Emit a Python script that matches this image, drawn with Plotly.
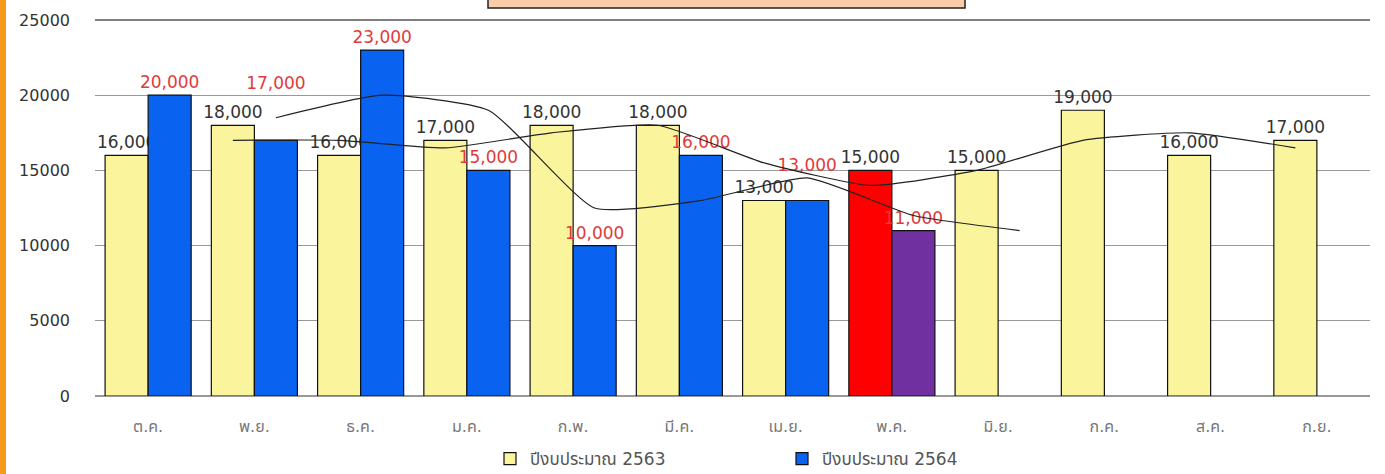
import plotly.graph_objects as go
import pandas as pd

months = ["ต.ค.", "พ.ย.", "ธ.ค.", "ม.ค.", "ก.พ.", "มี.ค.", "เม.ย.", "พ.ค.", "มิ.ย.", "ก.ค.", "ส.ค.", "ก.ย."]
budget_2563 = [16000, 18000, 16000, 17000, 18000, 18000, 13000, 15000, 15000, 19000, 16000, 17000]
budget_2564 = [20000, 17000, 23000, 15000, 10000, 16000, 13000, 11000, None, None, None, None]
colors_2563 = ["#FAF59C"] * 7 + ["#FF0000"] + ["#FAF59C"] * 4
colors_2564 = ["#0A62F0"] * 7 + ["#7030A0"] + ["#0A62F0"] * 4
# label lift (number of blank lines under a value label) to avoid collisions, as in the original
lift_2564 = [0, 2, 0, 0, 0, 0, 1, 0, 0, 0, 0, 0]
yticks = [0, 5000, 10000, 15000, 20000, 25000]
name_2563 = "ปีงบประมาณ 2563"
name_2564 = "ปีงบประมาณ 2564"

# two-period moving-average trendlines (as in the spreadsheet chart)
ma_2563 = pd.Series(budget_2563, dtype=float).rolling(2).mean()
ma_2564 = pd.Series(budget_2564, dtype=float).rolling(2, min_periods=1).mean()
ma_2563.iloc[0] = None
ma_2564.iloc[0] = None

FONT = "DejaVu Sans, Tahoma, Noto Sans Thai, sans-serif"

text_2564 = []
for v, k in zip(budget_2564, lift_2564):
    text_2564.append("" if v is None else f"{v:,}" + "<br> " * k)

fig = go.Figure()
fig.add_trace(go.Bar(
    x=months, y=budget_2563, name=name_2563, offsetgroup="a",
    marker=dict(color=colors_2563, line=dict(color="#111", width=1.2)),
    text=[f"{v:,}" for v in budget_2563], textposition="outside", constraintext="none",
    textfont=dict(color="#333333", size=17, family=FONT), cliponaxis=False,
))
fig.add_trace(go.Bar(
    x=months, y=budget_2564, name=name_2564, offsetgroup="b",
    marker=dict(color=colors_2564, line=dict(color="#111", width=1.2)),
    text=text_2564, textposition="outside", constraintext="none",
    textfont=dict(color="#E23A3A", size=17, family=FONT), cliponaxis=False,
))
fig.add_trace(go.Scatter(
    x=months, y=ma_2563, mode="lines", offsetgroup="a", showlegend=False, hoverinfo="skip",
    line=dict(color="#222", width=1.2, shape="spline", smoothing=0.5), connectgaps=False,
))
fig.add_trace(go.Scatter(
    x=months, y=ma_2564, mode="lines", offsetgroup="b", showlegend=False, hoverinfo="skip",
    line=dict(color="#222", width=1.2, shape="spline", smoothing=0.5), connectgaps=False,
))

W, H = 1385, 474
L, R, T, B = 95, 15, 20, 78
pw, ph = W - L - R, H - T - B

def px_x(p):
    return (p - L) / pw

def px_y(p):
    return (H - B - p) / ph

fig.update_layout(
    width=W, height=H,
    margin=dict(l=L, r=R, t=T, b=B, autoexpand=False),
    paper_bgcolor="white", plot_bgcolor="white",
    barmode="group", bargap=0.19, bargroupgap=0,
    scattermode="group",
    font=dict(family=FONT, color="#444"),
    showlegend=True,
    legend=dict(orientation="h", x=px_x(490), xanchor="left", y=px_y(459), yanchor="middle",
                font=dict(size=17, color="#555", family=FONT),
                entrywidth=247, entrywidthmode="pixels", itemclick=False),
    xaxis=dict(showgrid=False, tickfont=dict(size=16, color="#777", family=FONT),
               showline=True, linecolor="#999", linewidth=1, ticks="", ticklabelstandoff=16,
               automargin=False),
    yaxis=dict(range=[0, 25000], tickvals=yticks, ticktext=[str(v) for v in yticks],
               showgrid=True, gridcolor="#999", gridwidth=1, zeroline=True, zerolinecolor="#999",
               tickfont=dict(size=16, color="#333", family=FONT), ticklabelstandoff=24,
               automargin=False),
    shapes=[
        dict(type="rect", xref="paper", yref="paper", x0=px_x(0), x1=px_x(6), y0=px_y(H + 5), y1=px_y(-5),
             fillcolor="#F49B1C", line=dict(width=0), layer="above"),
        dict(type="line", xref="paper", yref="paper", x0=0, x1=1, y0=1, y1=1,
             line=dict(color="#555", width=1.5)),
        dict(type="rect", xref="paper", yref="paper", x0=px_x(488), x1=px_x(965), y0=px_y(8), y1=px_y(-20),
             fillcolor="#F9CDAA", line=dict(color="#222", width=1.5), layer="above"),
    ],
)

fig.write_html("out.html", config={"displayModeBar": False},
               post_script="document.body.style.margin='0';document.body.style.padding='0';")
